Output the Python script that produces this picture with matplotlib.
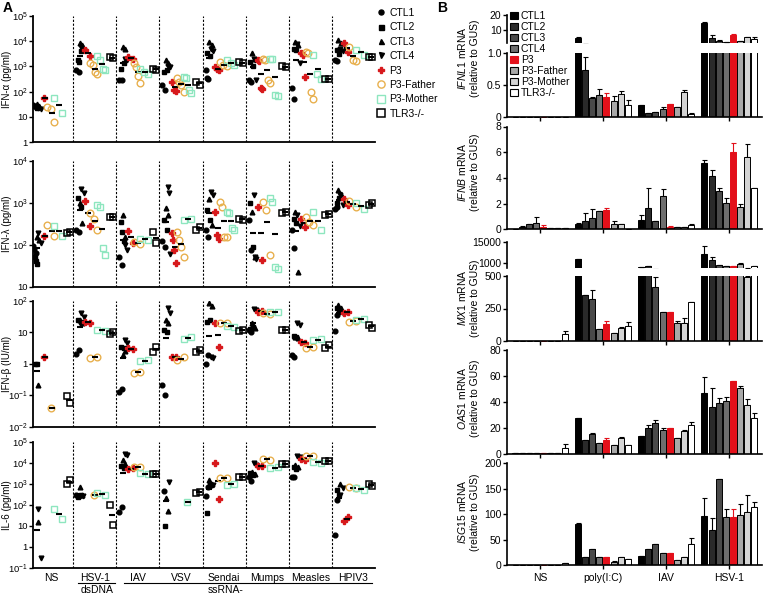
import numpy as np
import matplotlib.pyplot as plt
from matplotlib.lines import Line2D
from matplotlib.patches import Patch
from matplotlib.ticker import FixedLocator, NullLocator

plt.rcParams['font.family'] = ['Liberation Sans', 'DejaVu Sans']
plt.rcParams['mathtext.fontset'] = 'custom'
plt.rcParams['mathtext.rm'] = 'Liberation Sans'
plt.rcParams['mathtext.it'] = 'Liberation Sans:italic'

viruses = ['NS', 'HSV-1', 'IAV', 'VSV', 'Sendai', 'Mumps', 'Measles', 'HPIV3']
people = ['CTL1', 'CTL2', 'CTL3', 'CTL4', 'P3', 'P3-Father', 'P3-Mother', 'TLR3-/-']

# ---- panel A: one list per virus (NS ... HPIV3) ----
# IFN-alpha (pg/ml)
ifna_ctl1 = [[30, 25], [700, 600], [300, 280], [180, 115], [700, 350, 330], [300, 250], [135, 50], [1800, 1700]]
ifna_ctl2 = [[28, 22], [1800, 1500, 4000], [800, 1300], [600, 700], [3300, 2500], [1500, 1000], [5000, 4500], [4300, 3000]]
ifna_ctl3 = [[32, 27], [8000, 7000], [6000, 5000], [1800, 1400], [9000, 7000], [3300, 2000], [9000, 7000], [11000, 8000]]
ifna_ctl4 = [[22, 20], [6000, 4500], [2000, 1800], [1000, 900], [5000, 4000], [2000, 1800, 290], [7500, 1300], [5000, 4000]]
ifna_p3 = [[55], [4500, 2500], [2400, 2000], [250, 120, 110], [950, 800, 700], [1800, 1700, 140, 130], [3300, 2800, 370], [8000, 3800]]
ifna_fa = [[25, 20, 6.5], [1300, 1100, 600, 500], [1300, 950, 400, 230], [340, 250, 180, 100], [1500, 1100, 1000],
           [2000, 1800, 300, 230], [3800, 3300, 100, 50], [6000, 1800, 1700]]
ifna_mo = [[57, 15], [2500, 1800, 800, 700], [800, 600, 500], [390, 350, 115, 85], [1800, 1300, 1100],
           [2000, 1900, 75, 65], [2800, 500, 330], [4500, 2800]]
ifna_tlr3 = [[], [2300, 2100], [800, 750], [250, 180], [1500, 1300], [1000, 950], [330, 330], [2400, 2400]]

# IFN-lambda (pg/ml)
ifnl_ctl1 = [[95, 80, 62], [220, 200], [52, 33], [120, 90], [220, 155], [385, 75], [220, 82], [700, 800]]
ifnl_ctl2 = [[50, 40, 35], [1260, 800], [350, 200, 120], [385, 220], [670, 385], [1000, 90], [400, 330], [1000, 1300]]
ifnl_ctl3 = [[150, 130], [1000, 320], [510, 155], [730, 500], [1250, 295], [610, 52], [610, 23], [2000, 1600]]
ifnl_ctl4 = [[186, 110], [2100, 1700], [100, 75], [2400, 1660, 60], [1830, 1500], [1500, 52, 45], [500, 280], [1500, 900]]
ifnl_p3 = [[160], [1100, 280], [215, 107], [185, 130, 75, 36], [610, 170, 140], [800, 43], [420, 270], [1200, 900]]
ifnl_fa = [[294, 160], [575, 420, 220], [118, 104], [200, 130, 90, 52], [1060, 800, 155, 150], [1060, 670, 57],
           [460, 350, 295], [1100, 800]]
ifnl_mo = [[280, 165], [880, 800, 82, 57], [140, 130], [385, 420], [610, 560, 245, 225], [1260, 1060, 30, 27],
           [610, 220], [1000, 700]]
ifnl_tlr3 = [[186, 205], [460, 460], [200, 110], [230, 260], [420, 385], [560, 610], [510, 540], [900, 1000]]

# IFN-beta (IU/ml)
ifnb_ctl1 = [[], [2.1, 2.7], [0.13, 0.16], [0.21, 0.1], [1.0, 1.9], [12, 10], [1.9, 1.6], [11, 35]]
ifnb_ctl2 = [[1.0, 1.0], [24, 21], [3.5, 3.1], [12, 10], [21, 24], [13, 15], [7.6, 6.8], [57, 50]]
ifnb_ctl3 = [[0.21], [25, 19], [1.9, 2.5], [24, 20], [82, 68], [19, 14], [7.2, 6.5], [73, 60]]
ifnb_ctl4 = [[], [40, 31], [5.6, 4.5], [57, 40], [1.65, 1.5], [53, 50], [19, 17], [45, 40]]
ifnb_p3 = [[1.6], [21, 20], [3.1, 2.9], [1.65, 1.6], [19, 3.5], [45, 48], [5, 4.5], [41, 45]]
ifnb_fa = [[0.04], [1.55, 1.6], [0.52, 0.55], [1.3, 1.6], [19, 20], [40, 37], [3.1, 3.5], [21, 23]]
ifnb_mo = [[], [12, 11], [1.2, 1.3], [6.3, 6.8], [16, 15], [45, 45], [5.6, 5.9], [24, 27]]
ifnb_tlr3 = [[0.095, 0.055], [8.7, 10.4], [2.4, 3.5], [2.4, 2.7], [11, 12], [12, 12], [3.1, 3.9], [17, 14]]

# IL-6 (pg/ml)
il6_ctl1 = [[], [290, 270], [44, 75], [450], [270, 700], [2000, 1300], [2200, 2000], [3.6, 170]]
il6_ctl2 = [[], [240, 280], [7000, 5500], [10], [42, 900], [3100, 2500], [6500, 5000], [500, 300]]
il6_ctl3 = [[15], [720, 300], [13000, 9000], [220, 50], [1500, 1000], [3500, 2800], [8000, 6000], [1000]]
il6_ctl4 = [[60, 0.28], [260], [26000, 23000], [1250], [800, 900], [9300, 7800], [20000, 18000], [290, 600]]
il6_p3 = [[], [], [4800, 5400], [], [10000, 180], [7000, 7000], [15000, 14000], [17, 25]]
il6_fa = [[], [290], [6500, 6000], [], [1800, 1800], [15000, 14000], [22000, 20000], [700, 600]]
il6_mo = [[65, 22], [370, 290], [3100, 2900], [140], [870, 1000], [5400, 6400], [11000, 10000], [650, 500]]
il6_tlr3 = [[930, 1500], [95, 11], [2900, 2800], [370, 420], [2000, 2000], [8500, 8500], [12500, 12500], [1000, 800]]

# ---- panel B: per stimulus (NS, poly(I:C), IAV, HSV-1), 8 values each ----
stimuli = ['NS', 'poly(I:C)', 'IAV', 'HSV-1']
ifnl1_mean = [[0, 0, 0, 0, 0, 0, 0, 0],
              [4.9, 0.73, 0.30, 0.35, 0.31, 0.245, 0.355, 0.18],
              [0.18, 0.06, 0.08, 0.13, 0.20, 0.15, 0.39, 0.05],
              [14.7, 4.9, 3.1, 2.0, 7.1, 2.7, 5.3, 4.2]]
ifnl1_err = [[0, 0, 0, 0, 0, 0, 0, 0],
             [0.3, 0.21, 0.02, 0.09, 0.06, 0.09, 0.05, 0.09],
             [0.01, 0, 0, 0.02, 0.01, 0.01, 0.03, 0.01],
             [0.5, 2.0, 0.3, 0, 0.5, 0.3, 0.3, 1.0]]
ifnb_mean = [[0.05, 0.2, 0.4, 0.5, 0.2, 0.1, 0.08, 0.12],
             [0.44, 0.65, 0.9, 1.43, 1.53, 0.42, 0.4, 0.02],
             [0.73, 1.64, 0.62, 2.6, 0.2, 0.16, 0.2, 0.35],
             [5.17, 4.15, 3.0, 2.05, 6.05, 1.75, 5.64, 3.2]]
ifnb_err = [[0, 0.02, 0.05, 0.46, 0.15, 0, 0, 0.02],
            [0.05, 0.62, 0.68, 0.03, 0.12, 0.2, 0.05, 0],
            [0.4, 1.56, 0.05, 0.52, 0.03, 0, 0, 0.05],
            [0.2, 0.45, 0.2, 0.4, 0.65, 0.25, 1.0, 0]]
mx1_mean = [[2, 2, 2, 2, 2, 2, 2, 54],
            [1675, 354, 323, 95, 128, 59, 103, 118],
            [600, 680, 418, 220, 220, 136, 136, 297],
            [3190, 1470, 770, 680, 680, 880, 490, 680]]
mx1_err = [[0, 0, 0, 0, 0, 0, 0, 23],
           [80, 0, 70, 0, 25, 5, 5, 30],
           [0, 0, 72, 5, 5, 15, 38, 5],
           [6100, 780, 0, 0, 0, 120, 10, 0]]
oas1_mean = [[0.3, 0.3, 0.5, 0.3, 0.3, 0.3, 0.5, 4.7],
             [27.4, 10.9, 15.3, 8.3, 10.9, 6.7, 12.4, 6.7],
             [14, 19.9, 23.3, 18.1, 19.7, 11.9, 17.6, 22.3],
             [47.1, 36.2, 39.3, 40.9, 55.9, 50.7, 37.8, 27.9]]
oas1_err = [[0, 0, 0, 0, 0, 0, 0, 2.6],
            [0.5, 0, 0.3, 0, 1.2, 0, 0.5, 0],
            [0, 2, 2.8, 2, 0.5, 0.5, 0.5, 1.8],
            [11.9, 14.5, 3.6, 3.1, 0, 1.8, 4.7, 3.4]]
isg15_mean = [[0.3, 0.3, 0.3, 0.3, 0.3, 0.3, 0.3, 4],
              [80, 15, 31.5, 15, 15, 6, 15.7, 11],
              [18.4, 32, 40.7, 23.6, 23.6, 9.8, 15, 40.7],
              [97, 68, 169, 95, 95, 98, 104, 114]]
isg15_err = [[0, 0, 0, 0, 0, 0, 0, 0.5],
             [2, 0, 0, 0, 0, 1, 0, 0],
             [0, 0, 0, 0, 0, 0, 0, 12.5],
             [34, 25, 0.5, 15, 15, 22, 34, 10]]

W, H = 763, 595
fig = plt.figure(figsize=(W / 100, H / 100), dpi=100)


def px_axes(x0, y_top, x1, y_bot):
    return fig.add_axes([x0 / W, 1 - y_bot / H, (x1 - x0) / W, (y_bot - y_top) / H])


def log_label(e):
    if e == 0:
        return '1'
    if e == 1:
        return '10'
    return r'$10^{%d}$' % e


# ---------------- Panel A ----------------
ctl_style = [dict(marker='o', color='black'), dict(marker='s', color='black'),
             dict(marker='^', color='black'), dict(marker='v', color='black')]
p3_style = dict(marker='P', color='#d7191c', mec='#d7191c')
fa_style = dict(marker='o', mfc='none', mec='#e8b04e', mew=1.0)
mo_style = dict(marker='s', mfc='none', mec='#8ee6bf', mew=1.0)
tlr_style = dict(marker='s', mfc='none', mec='black', mew=1.1)

panelsA = [
    ('IFN-α (pg/ml)', 0, 5, [ifna_ctl1, ifna_ctl2, ifna_ctl3, ifna_ctl4], ifna_p3, ifna_fa, ifna_mo, ifna_tlr3, (15.7, 142.3)),
    ('IFN-λ (pg/ml)', 1, 4, [ifnl_ctl1, ifnl_ctl2, ifnl_ctl3, ifnl_ctl4], ifnl_p3, ifnl_fa, ifnl_mo, ifnl_tlr3, (160.7, 286.7)),
    ('IFN-β (IU/ml)', -2, 2, [ifnb_ctl1, ifnb_ctl2, ifnb_ctl3, ifnb_ctl4], ifnb_p3, ifnb_fa, ifnb_mo, ifnb_tlr3, (300.7, 426.7)),
    ('IL-6 (pg/ml)', -1, 5, [il6_ctl1, il6_ctl2, il6_ctl3, il6_ctl4], il6_p3, il6_fa, il6_mo, il6_tlr3, (441.7, 567.7)),
]

ctl_pos = [0.10, 0.14, 0.18, 0.22]


def spread(center, half, n):
    if n == 1:
        return np.array([center])
    return center + np.linspace(-half, half, n)


def gmean(v):
    return np.exp(np.mean(np.log(v)))


AX_L, AX_R = 33.3, 375
axesA = []
for label, e0, e1, ctls, p3, fa, mo, tlr, (yt, yb) in panelsA:
    ax = px_axes(AX_L, yt, AX_R, yb)
    axesA.append(ax)
    ax.set_yscale('log')
    ax.set_ylim(10.0 ** e0, 10.0 ** e1)
    ax.set_xlim(-0.426, 7.5)
    for b in np.arange(0.5, 7.0, 1.0):
        ax.axvline(b, color='black', lw=0.8, ls=(0, (2, 1.5)), zorder=0)
    for g in range(len(viruses)):
        left = g - 0.5
        allc = []
        for k in range(4):
            v = ctls[k][g]
            if v:
                ax.plot(spread(left + ctl_pos[k], 0.03, len(v)), v, ls='none', ms=3.4, **ctl_style[k])
                allc += v
        if allc:
            ax.plot(left + 0.16, gmean(allc), marker='_', color='black', ms=5, mew=1.5)
        for vals, cx, hw, st, ms in [(p3[g], 0.33, 0.05, p3_style, 4.2), (fa[g], 0.48, 0.08, fa_style, 4.8),
                                     (mo[g], 0.65, 0.09, mo_style, 4.8), (tlr[g], 0.89, 0.04, tlr_style, 4.8)]:
            if vals:
                ax.plot(spread(left + cx, hw, len(vals)), vals, ls='none', ms=ms, **st)
                ax.plot(left + cx + 0.02, gmean(vals), marker='_', color='black', ms=5, mew=1.5)
    ax.yaxis.set_major_locator(FixedLocator([10.0 ** e for e in range(e0, e1 + 1)]))
    ax.set_yticklabels([log_label(e) for e in range(e0, e1 + 1)])
    ax.yaxis.set_minor_locator(NullLocator())
    ax.set_xticks(range(len(viruses)))
    ax.set_xticklabels([])
    ax.tick_params(axis='x', length=0)
    ax.tick_params(axis='y', labelsize=6.8, length=3, width=1, pad=1)
    for s in ['top', 'right']:
        ax.spines[s].set_visible(False)
    for s in ['left', 'bottom']:
        ax.spines[s].set_linewidth(1.3)
    ax.set_ylabel(label, fontsize=7)
    ax.yaxis.set_label_coords((12.5 - AX_L) / (AX_R - AX_L), 0.5)

axesA[-1].set_xticklabels(viruses, fontsize=7.5)
axesA[-1].tick_params(axis='x', pad=4)

# virus type annotations under panel A
fig.add_artist(Line2D([78 / W, 115 / W], [1 - 583 / H, 1 - 583 / H], color='black', lw=0.8))
fig.text(97 / W, 1 - 590 / H, 'dsDNA', fontsize=7.5, ha='center', va='center')
fig.add_artist(Line2D([124 / W, 372 / W], [1 - 583 / H, 1 - 583 / H], color='black', lw=0.8))
fig.text(226 / W, 1 - 590 / H, 'ssRNA-', fontsize=7.5, ha='center', va='center')

handlesA = [Line2D([], [], ls='none', ms=3.6, **ctl_style[k]) for k in range(4)]
handlesA += [Line2D([], [], ls='none', ms=4.5, **p3_style), Line2D([], [], ls='none', ms=5.2, **fa_style),
             Line2D([], [], ls='none', ms=5.2, **mo_style), Line2D([], [], ls='none', ms=5.2, **tlr_style)]
fig.legend(handlesA, people, loc='upper left', bbox_to_anchor=(378 / W, 1 - 8 / H), frameon=False,
           fontsize=7.5, handlelength=0.6, handletextpad=0.5, labelspacing=0.42, borderpad=0, borderaxespad=0)

# ---------------- Panel B ----------------
bar_colors = ['#000000', '#2a2a2a', '#4a4a4a', '#6e6e6e', '#e3101a', '#a8a8a8', '#d4d4d4', '#ffffff']
edge_colors = ['black'] * 4 + ['#e3101a'] + ['black'] * 3
bw = 0.095
step = 0.112


def draw_bars(ax, mean, err, base=0.0):
    for i in range(8):
        xs = np.arange(4) + (i - 3.5) * step
        h = np.array([m[i] for m in mean], dtype=float)
        e = np.array([er[i] for er in err], dtype=float)
        ax.bar(xs, h - base, bottom=base, width=bw, color=bar_colors[i], edgecolor=edge_colors[i], lw=0.7,
               zorder=2)
        ax.errorbar(xs, h, yerr=[np.zeros(4), e], fmt='none', ecolor=edge_colors[i], elinewidth=0.8,
                    capsize=1.8, capthick=0.8, zorder=1)


def style_b(ax, show_bottom=True):
    ax.set_xlim(-0.52, 3.52)
    for s in ['top', 'right']:
        ax.spines[s].set_visible(False)
    ax.spines['left'].set_linewidth(1.2)
    ax.spines['bottom'].set_linewidth(1.2)
    ax.tick_params(axis='y', labelsize=7.5, length=3, width=1, pad=1)
    ax.set_xticks(range(4))
    ax.set_xticklabels([])
    ax.tick_params(axis='x', length=3, width=1)
    if not show_bottom:
        ax.spines['bottom'].set_visible(False)
        ax.tick_params(axis='x', length=0)


XL, XR = 507, 762

# IFNL1 (broken)
ax = px_axes(XL, 15, XR, 43)
draw_bars(ax, ifnl1_mean, ifnl1_err, base=0)
ax.set_ylim(1.5, 20)
ax.set_yticks([10, 20])
style_b(ax, show_bottom=False)
ax = px_axes(XL, 53, XR, 117)
draw_bars(ax, ifnl1_mean, ifnl1_err)
ax.set_ylim(0, 1.0)
ax.set_yticks([0, 0.5, 1.0])
ax.set_yticklabels(['0', '0.5', '1.0'])
style_b(ax)

# IFNB
ax = px_axes(XL, 126.5, XR, 229.3)
draw_bars(ax, ifnb_mean, ifnb_err)
ax.set_ylim(0, 8)
ax.set_yticks([0, 2, 4, 6, 8])
style_b(ax)

# MX1 (broken, log upper part)
ax = px_axes(XL, 242, XR, 268.4)
ax.set_yscale('log')
draw_bars(ax, mx1_mean, mx1_err, base=1.0)
ax.set_ylim(500, 15000)
ax.yaxis.set_major_locator(FixedLocator([1000, 15000]))
ax.yaxis.set_minor_locator(NullLocator())
ax.set_yticklabels(['1000', '15000'])
style_b(ax, show_bottom=False)
ax = px_axes(XL, 276, XR, 341)
draw_bars(ax, mx1_mean, mx1_err)
ax.set_ylim(0, 500)
ax.set_yticks([0, 250, 500])
style_b(ax)

# OAS1
ax = px_axes(XL, 350, XR, 453.7)
draw_bars(ax, oas1_mean, oas1_err)
ax.set_ylim(0, 80)
ax.set_yticks([0, 20, 40, 60, 80])
style_b(ax)

# ISG15
ax = px_axes(XL, 463.3, XR, 565)
draw_bars(ax, isg15_mean, isg15_err)
ax.set_ylim(0, 200)
ax.set_yticks([0, 50, 100, 150, 200])
style_b(ax)
ax.set_xticklabels(stimuli, fontsize=7.5)
ax.tick_params(axis='x', pad=3)

for gene, yc in [('IFNL1', 58), ('IFNB', 172), ('MX1', 298), ('OAS1', 398), ('ISG15', 512)]:
    fig.text(468 / W, 1 - yc / H, r'$\mathit{%s}$ mRNA' % gene + '\n(relative to GUS)', rotation=90,
             fontsize=7.5, ha='center', va='center', linespacing=1.15)

handlesB = [Patch(facecolor=bar_colors[i], edgecolor=edge_colors[i], lw=0.8) for i in range(8)]
fig.legend(handlesB, people, loc='upper left', bbox_to_anchor=(510 / W, 1 - 11 / H), frameon=False,
           fontsize=7.5, handlelength=0.75, handleheight=0.75, handletextpad=0.3, labelspacing=0.1,
           borderpad=0, borderaxespad=0)

fig.text(3 / W, 1 - 8 / H, 'A', fontsize=10, fontweight='bold', va='center')
fig.text(437 / W, 1 - 8 / H, 'B', fontsize=10, fontweight='bold', va='center')

fig.savefig('out.png', dpi=100)
